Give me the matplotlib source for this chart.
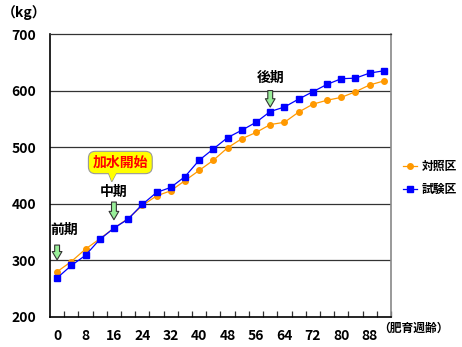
import matplotlib
matplotlib.use("Agg")
import matplotlib.pyplot as plt
from matplotlib.patches import Polygon
import numpy as np

weeks = list(range(0, 96, 4))
control = [280, 298, 320, 338, 357, 374, 397, 414, 423, 441, 459, 477, 499, 515,
           526, 540, 544, 562, 576, 583, 588, 598, 610, 617]
trial = [269, 291, 309, 337, 357, 373, 399, 420, 429, 448, 477, 497, 517, 530,
         544, 563, 571, 585, 598, 611, 621, 622, 631, 635]
xtick_labels = [str(w) for w in weeks[::2]]
series_names = ["対照区", "試験区"]

W = 'bold'
plt.rcParams['font.family'] = ['Noto Sans CJK JP', 'DejaVu Sans']
plt.rcParams['font.weight'] = W

fig = plt.figure(figsize=(4.62, 3.47), dpi=100)
ax = fig.add_axes([50/462, 1-317/347, (391-50)/462, (317-34)/347])

x = np.arange(len(weeks))
ax.plot(x, control, color='#FF9900', marker='o', markersize=4, lw=0.9, label=series_names[0])
ax.plot(x, trial, color='#0000FF', marker='s', markersize=4, lw=0.9, label=series_names[1])

ax.set_xlim(-0.5, len(weeks) - 0.5)
ax.set_ylim(200, 700)
ax.set_yticks([200, 300, 400, 500, 600, 700])
ax.set_yticklabels(['200', '300', '400', '500', '600', '700'], fontsize=10, fontweight=W)
ax.tick_params(axis='y', length=0, pad=10)
for v in [300, 400, 500, 600]:
    ax.axhline(v, color='#333333', lw=0.9, zorder=0)

ax.set_xticks(x[::2])
ax.set_xticklabels(xtick_labels, fontsize=10, fontweight=W)
ax.tick_params(axis='x', which='major', length=0, pad=9)
ax.set_xticks(np.arange(0.5, len(weeks), 1), minor=True)
ax.tick_params(axis='x', which='minor', direction='in', length=4, width=0.9, color='#333333')

ax.spines['left'].set_color('black')
ax.spines['left'].set_linewidth(1.2)
ax.spines['bottom'].set_color('black')
ax.spines['bottom'].set_linewidth(1.2)
ax.spines['top'].set_color('#333333')
ax.spines['top'].set_linewidth(0.9)
ax.spines['right'].set_color('#888888')
ax.spines['right'].set_linewidth(1.2)

# Stage annotations
arrowprops = dict(arrowstyle='simple,head_width=0.7,head_length=0.6,tail_width=0.35',
                  fc='#99EE99', ec='#333333', lw=0.8)
def stage(label, xi, text_y, a_start, a_end, tx=None):
    ax.text(xi if tx is None else tx, text_y, label, ha='center', va='center',
            fontsize=10, fontweight=W, color='black')
    ax.annotate('', xy=(xi, a_end), xytext=(xi, a_start), arrowprops=arrowprops)

stage('前期', 0, 354, 332, 296, tx=0.5)
stage('中期', 4, 421, 408, 367)
stage('後期', 15, 622, 605, 566)

# Callout
poly = Polygon([[3.55, 458], [4.25, 458], [3.85, 439]], closed=True,
               fc='#FFFF00', ec='#999999', lw=0.8, zorder=4)
ax.add_patch(poly)
ax.text(4.45, 473, '加水開始', ha='center', va='center', fontsize=10, fontweight=W,
        color='#FF0000', zorder=5,
        bbox=dict(boxstyle='round,pad=0.3,rounding_size=0.5', fc='#FFFF00', ec='#999999', lw=0.8))
poly2 = Polygon([[3.6, 456], [4.2, 456], [3.85, 440]], closed=True,
                fc='#FFFF00', ec='none', zorder=6)
ax.add_patch(poly2)

fig.text(24/462, 1-13/347, '（kg）', ha='center', va='center', fontsize=10, fontweight=W)
fig.text(378/462, 1-328/347, '（肥育週齢）', ha='left', va='center', fontsize=8.5, fontweight=W)

fig.legend(loc='center left', bbox_to_anchor=(403/462, 1-178/347), frameon=False,
           handlelength=1.2, handletextpad=0.4, labelspacing=0.9, borderpad=0,
           borderaxespad=0, prop={'size': 8.5, 'weight': W})

fig.savefig('out.png', dpi=100)
